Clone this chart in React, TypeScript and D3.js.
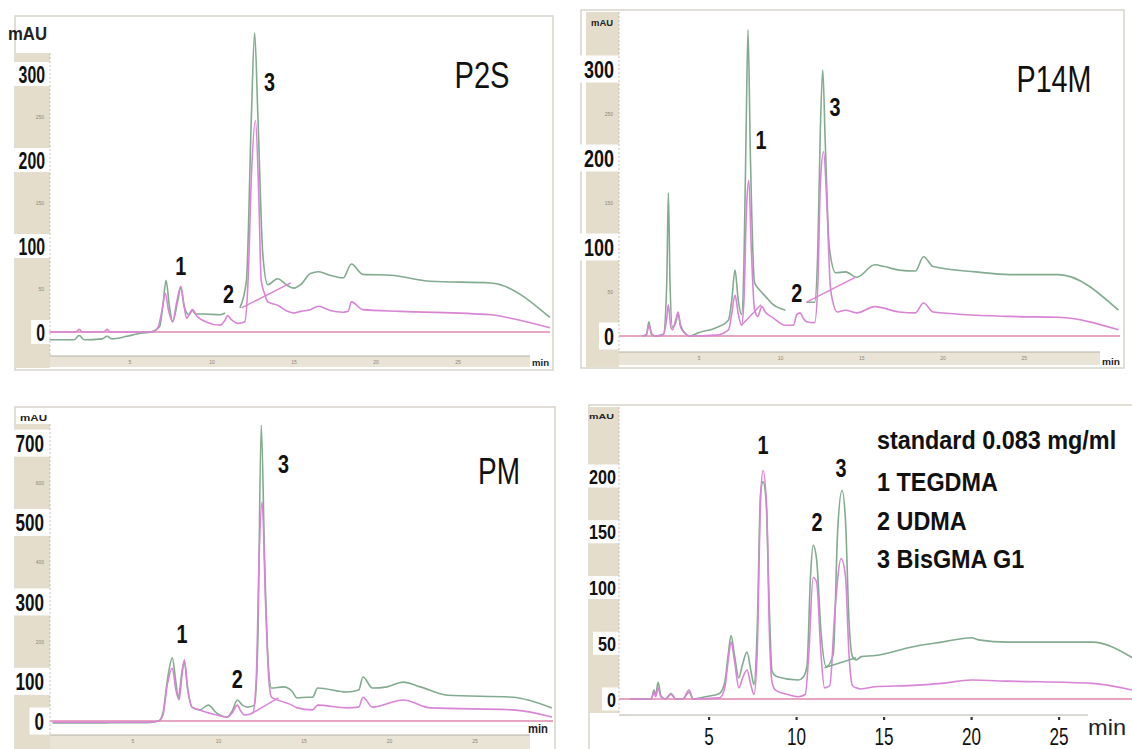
import React from "react";
import * as d3 from "d3";

type Pt = [number, number];

// ---------- DATA (time in min, absorbance in mAU) ----------
const X_TICKS = [5, 10, 15, 20, 25];

// P2S
const P2S_Y_MAJOR = [0, 100, 200, 300];
const P2S_Y_MINOR = [50, 150, 250];
const P2S_GREEN_A: Pt[] = [[0.1,-9],[1.6,-9],[1.9,-4],[2.2,-9],[3.3,-8],[3.6,-5],[3.9,-8],[4.8,-5],[5.5,-2],[6.3,0],[6.8,6],[7.0,30],[7.2,60],[7.4,30],[7.6,12],[7.9,35],[8.1,52],[8.3,30],[8.6,20],[8.8,25],[9.0,21],[9.5,21],[10.5,20],[10.8,22]];
const P2S_GREEN_B: Pt[] = [[11.7,28],[12.1,60],[12.4,250],[12.6,348],[12.8,250],[13.1,90],[13.4,55],[14.0,62],[14.6,54],[15.0,51],[15.4,55],[16.0,68],[16.5,70],[17.2,66],[18.0,63],[18.5,79],[19.2,67],[20.9,66],[23.3,59],[27.0,57],[30.6,17]];
const P2S_PINK: Pt[] = [[0.1,0],[1.7,0],[1.9,3],[2.1,0],[3.4,0],[3.6,3],[3.8,0],[6.3,0],[6.7,5],[6.95,25],[7.15,45],[7.35,25],[7.6,12],[7.85,35],[8.1,53],[8.3,30],[8.45,16],[8.8,26],[9.1,18],[9.6,12],[10.5,8],[10.8,14],[10.95,19],[11.2,14],[11.6,10],[12.0,12],[12.2,60],[12.4,180],[12.65,246],[12.85,160],[13.0,60],[13.2,45],[13.4,35],[14.0,31],[14.6,24],[15.0,22],[15.4,24],[16.0,26],[16.5,30],[17.2,25],[18.0,23],[18.3,24],[18.5,35],[19.2,26],[21.5,24],[27.0,20],[28.2,16],[30.6,5]];
const P2S_DRIFT: Pt[] = [[11.8,28],[14.8,57]];
const P2S_PEAK_LABELS: [string, number, number][] = [["1",8.1,77],["2",11.0,44],["3",13.5,291]];

// P14M
const P14M_Y_MAJOR = [0, 100, 200, 300];
const P14M_Y_MINOR = [50, 150, 250];
const P14M_GREEN_A: Pt[] = [[1.5,0],[1.75,1],[1.9,16],[2.05,2],[2.3,0],[2.8,2],[3.0,60],[3.1,161],[3.2,60],[3.35,10],[3.55,15],[3.7,25],[3.85,12],[4.2,2],[4.4,0],[5.0,4],[6.0,9],[6.8,18],[7.0,40],[7.2,74],[7.4,40],[7.6,24],[7.75,80],[7.9,250],[8.0,344],[8.15,200],[8.4,60],[8.7,52],[9.1,44],[9.5,36],[10.3,29]];
const P14M_GREEN_B: Pt[] = [[11.6,38],[12.1,38],[12.3,100],[12.45,230],[12.6,299],[12.75,220],[13.0,100],[13.4,71],[14.0,72],[14.7,66],[15.8,80],[16.4,78],[17.3,74],[18.3,73],[18.8,89],[19.4,78],[22.0,72],[24.1,69],[27.1,69],[30.8,29]];
const P14M_PINK: Pt[] = [[1.5,0],[1.75,2],[1.9,12],[2.1,2],[2.3,0],[2.8,2],[3.0,20],[3.1,35],[3.25,10],[3.35,7],[3.55,18],[3.7,27],[3.85,10],[4.1,3],[4.4,0],[6.0,1],[6.8,7],[7.0,25],[7.2,46],[7.4,25],[7.6,12],[7.75,40],[7.9,140],[8.05,175],[8.2,100],[8.4,30],[8.6,22],[8.85,33],[9.1,26],[9.5,21],[10.3,12],[10.8,12],[11.0,24],[11.2,26],[11.4,20],[11.6,16],[12.1,15],[12.3,60],[12.45,170],[12.65,207],[12.85,150],[13.05,60],[13.2,40],[13.5,27],[14.0,29],[14.7,26],[15.8,33],[17.3,27],[18.3,26],[18.8,37],[19.4,27],[24.1,22],[27.1,21],[30.8,7]];
const P14M_DRIFT: Pt[] = [[11.6,38],[14.6,66]];
const P14M_DRIFT_PINK: Pt[] = [[7.6,12],[8.8,35]];
const P14M_PEAK_LABELS: [string, number, number][] = [["1",8.8,220],["2",11.0,48],["3",13.35,257]];

// PM
const PM_Y_MAJOR = [0, 100, 300, 500, 700];
const PM_Y_MINOR = [200, 400, 600];
const PM_GREEN: Pt[] = [[0.3,-5],[3.0,-5],[4.5,-4],[5.8,-4],[6.5,0],[6.75,20],[7.0,100],[7.3,159],[7.5,100],[7.65,58],[7.85,120],[8.0,150],[8.2,80],[8.45,35],[8.9,28],[9.4,40],[9.9,20],[10.5,10],[10.8,25],[11.1,53],[11.4,40],[11.7,35],[12.1,40],[12.3,200],[12.5,745],[12.7,400],[12.9,150],[13.1,83],[13.8,86],[14.3,75],[14.6,58],[15.2,60],[15.5,60],[15.8,83],[17.5,73],[18.2,78],[18.45,111],[19.0,83],[19.85,86],[20.8,98],[21.8,86],[23.4,65],[27.2,60],[29.5,33]];
const PM_PINK: Pt[] = [[0.3,-3],[5.8,-3],[6.5,0],[6.75,15],[7.0,90],[7.3,133],[7.5,80],[7.7,53],[7.85,110],[8.0,154],[8.2,80],[8.45,35],[8.9,28],[9.9,15],[10.5,10],[10.8,20],[11.1,40],[11.3,25],[11.55,15],[12.0,20],[12.2,100],[12.4,450],[12.55,552],[12.75,300],[12.95,100],[13.1,60],[13.8,48],[14.3,40],[14.6,33],[15.5,28],[15.8,40],[17.5,33],[18.2,35],[18.45,60],[19.0,35],[20.8,53],[22.4,33],[27.2,28],[29.5,10]];
const PM_DRIFT: Pt[] = [[11.9,18],[13.5,58]];
const PM_PEAK_LABELS: [string, number, number][] = [["1",7.87,219],["2",11.1,106],["3",13.8,647]];

// Standard 0.083 mg/ml
const STD_Y_MAJOR = [0, 50, 100, 150, 200];
const STD_GREEN: Pt[] = [[0.5,0],[1.7,0],[1.86,8],[1.95,3],[2.09,15],[2.25,3],[2.5,0],[2.83,5],[3.1,0],[3.5,0],[3.86,6],[4.1,0],[4.8,2],[5.6,5],[5.9,15],[6.1,40],[6.26,57],[6.45,40],[6.7,19],[6.9,30],[7.17,42],[7.4,25],[7.57,13],[7.75,60],[7.95,185],[8.09,195],[8.26,178],[8.45,80],[8.6,25],[8.9,20],[10.1,17],[10.4,20],[10.6,30],[10.8,110],[10.95,138],[11.15,125],[11.4,60],[11.7,29],[12.1,40],[12.35,150],[12.6,187],[12.8,160],[13.0,70],[13.2,38],[13.4,35],[13.7,38],[14.5,39],[16.4,46],[17.0,48],[18.3,51],[20.0,55],[20.4,53],[22.1,51],[26.9,51],[29.2,37]];
const STD_PINK: Pt[] = [[0.5,0],[1.7,0],[1.86,6],[1.95,2],[2.09,10],[2.25,2],[2.5,0],[2.83,4],[3.1,0],[3.5,0],[3.86,8],[4.1,0],[5.6,1],[5.9,10],[6.1,35],[6.26,51],[6.45,35],[6.71,10],[6.9,18],[7.17,26],[7.4,12],[7.57,4],[7.75,40],[7.95,180],[8.09,205],[8.3,170],[8.45,60],[8.6,15],[8.8,8],[9.5,4],[10.1,2],[10.5,4],[10.7,40],[10.95,109],[11.15,105],[11.4,40],[11.6,10],[11.9,12],[12.2,80],[12.55,126],[12.8,110],[13.0,40],[13.2,12],[13.4,10],[13.7,9],[14.5,11],[16.4,12],[18.3,14],[20.0,17],[22.1,16],[26.9,14],[29.2,8]];
const STD_DRIFT: Pt[] = [[11.6,28],[13.4,37]];
const STD_PEAK_LABELS: [string, number, number][] = [["1",8.09,228],["2",11.17,159],["3",12.54,207]];
const STD_LEGEND = ["standard 0.083 mg/ml", "1 TEGDMA", "2 UDMA", "3 BisGMA G1"];

// ---------- STYLE ----------
const GREEN = "#82ab90";
const PINK = "#d985d5";
const BASE = "#e6a6c2";
const BEIGE = "#e4ddcc";
const FRAME = "#d8d4ca";
const FONT = "'Liberation Sans', Arial, sans-serif";

function Panel(props: any) {
  const c = props.cfg;
  const x = d3.scaleLinear().domain([0, 30]).range([c.x0, c.x0 + 30 * c.pxMin]);
  const y = d3.scaleLinear().domain([0, c.yMax]).range([c.y0, c.y0 - c.yMax * c.pxUnit]);
  const line = d3.line<Pt>().x((d) => x(d[0])).y((d) => y(d[1])).curve(d3.curveMonotoneX);
  const charW = c.labelCharW;
  return (
    <g>
      <rect x={c.frame[0]} y={c.frame[1]} width={c.frame[2]} height={c.frame[3]} fill="#fff" stroke={FRAME} strokeWidth={1.5} />
      <rect x={c.strip[0]} y={c.strip[1]} width={c.strip[2]} height={c.strip[3]} fill={BEIGE} />
      {c.xbar && <rect x={c.xbar[0]} y={c.xbar[1]} width={c.xbar[2]} height={c.xbar[3]} fill={BEIGE} opacity={0.8} />}
      {c.majors.map((v: number) => {
        const len = String(v).length * charW;
        return <rect key={"b" + v} x={c.labelEnd - len - 5} y={y(v) - c.boxH / 2} width={c.plotL - (c.labelEnd - len - 5)} height={c.boxH} fill="#fff" />;
      })}
      <line x1={c.plotL} x2={c.plotL} y1={c.strip[1]} y2={c.axisY} stroke="#b9b4a8" strokeWidth={0.8} strokeDasharray="2,2" />
      <line x1={c.plotL} x2={c.axisEnd} y1={c.axisY} y2={c.axisY} stroke="#b5b0a5" strokeWidth={1} />
      {c.minors.map((v: number) => (
        <text key={"m" + v} x={c.plotL - 6} y={y(v) + 2} fontSize={5} fill="#8a8578" textAnchor="end" fontFamily={FONT}>{v}</text>
      ))}
      {c.bigX
        ? X_TICKS.map((t) => (
            <g key={"xt" + t}>
              <rect x={x(t) - 1} y={c.axisY + 2} width={2.2} height={3} fill="#333" />
              <text x={x(t)} y={c.axisY + 30} fontSize={24} textAnchor="middle" fontFamily={FONT} fill="#111"
                textLength={String(t).length * 9.5} lengthAdjust="spacingAndGlyphs">{t}</text>
            </g>
          ))
        : X_TICKS.map((t) => (
            <text key={"xt" + t} x={x(t)} y={c.axisY + 8} fontSize={5} fill="#8a8578" textAnchor="middle" fontFamily={FONT}>{t}</text>
          ))}
      <line x1={c.plotL} x2={c.plotR} y1={y(0)} y2={y(0)} stroke={BASE} strokeWidth={1.8} />
      {c.green.map((s: Pt[], i: number) => (
        <path key={"g" + i} d={line(s) || ""} fill="none" stroke={GREEN} strokeWidth={1.6} strokeLinejoin="round" />
      ))}
      {c.pink.map((s: Pt[], i: number) => (
        <path key={"p" + i} d={line(s) || ""} fill="none" stroke={PINK} strokeWidth={1.6} strokeLinejoin="round" />
      ))}
      {c.drift.map((s: Pt[], i: number) => (
        <path key={"d" + i} d={d3.line<Pt>().x((d) => x(d[0])).y((d) => y(d[1]))(s) || ""} fill="none" stroke={c.driftColor[i]} strokeWidth={1.4} />
      ))}
      {c.majors.map((v: number) => (
        <text key={"l" + v} x={c.labelEnd} y={y(v) + c.labelSize * 0.36} fontSize={c.labelSize} fontWeight="bold" textAnchor="end"
          fontFamily={FONT} fill="#111" textLength={String(v).length * charW} lengthAdjust="spacingAndGlyphs">{v}</text>
      ))}
      <text x={c.mau[0]} y={c.mau[1]} fontSize={c.mau[2]} fontWeight="bold" fontFamily={FONT} fill="#222"
        textLength={c.mau[3]} lengthAdjust="spacingAndGlyphs">mAU</text>
      <text x={c.min[0]} y={c.min[1]} fontSize={c.min[2]} fontWeight={c.min[4] ? "bold" : "normal"} fontFamily={FONT} fill="#222"
        textLength={c.min[3]} lengthAdjust="spacingAndGlyphs">min</text>
      {c.peaks.map((p: [string, number, number]) => (
        <text key={"pk" + p[0]} x={x(p[1])} y={y(p[2]) + 9} fontSize={26} fontWeight="bold" textAnchor="middle" fontFamily={FONT}
          fill="#111" textLength={11} lengthAdjust="spacingAndGlyphs">{p[0]}</text>
      ))}
      {c.title && (
        <text x={c.title[1]} y={c.title[2]} fontSize={c.title[3]} textAnchor="middle" fontFamily={FONT} fill="#111"
          textLength={c.title[4]} lengthAdjust="spacingAndGlyphs">{c.title[0]}</text>
      )}
    </g>
  );
}

export default function App() {
  const p1 = {
    x0: 48, pxMin: 16.4, y0: 332, pxUnit: 0.86, yMax: 300, plotL: 50, plotR: 550, axisY: 356, axisEnd: 530,
    frame: [15, 16, 538, 354], strip: [15, 53, 35, 315], xbar: [50, 356, 480, 11],
    majors: P2S_Y_MAJOR, minors: P2S_Y_MINOR, labelEnd: 45, labelSize: 24, labelCharW: 8.8, boxH: 24,
    mau: [8, 40, 18, 39], min: [532, 366, 9, 17, true], title: ["P2S", 482, 88, 36, 55],
    green: [P2S_GREEN_A, P2S_GREEN_B], pink: [P2S_PINK], drift: [P2S_DRIFT], driftColor: [PINK], peaks: P2S_PEAK_LABELS,
  };
  const p2 = {
    x0: 618, pxMin: 16.25, y0: 336, pxUnit: 0.89, yMax: 300, plotL: 619, plotR: 1120, axisY: 352, axisEnd: 1100,
    frame: [581, 10, 543, 358], strip: [586, 12, 33, 355], xbar: [619, 352, 481, 13],
    majors: P14M_Y_MAJOR, minors: P14M_Y_MINOR, labelEnd: 614, labelSize: 24, labelCharW: 10, boxH: 27,
    mau: [591, 26, 9, 22], min: [1102, 365, 9, 18, true], title: ["P14M", 1054, 92, 36, 75],
    green: [P14M_GREEN_A, P14M_GREEN_B], pink: [P14M_PINK], drift: [P14M_DRIFT, P14M_DRIFT_PINK], driftColor: [PINK, PINK], peaks: P14M_PEAK_LABELS,
  };
  const p3 = {
    x0: 47.5, pxMin: 17.1, y0: 721, pxUnit: 0.397, yMax: 700, plotL: 50, plotR: 553, axisY: 735, axisEnd: 530,
    frame: [15, 407, 540, 360], strip: [15, 424, 35, 330], xbar: [50, 735, 480, 16],
    majors: PM_Y_MAJOR, minors: PM_Y_MINOR, labelEnd: 44, labelSize: 24, labelCharW: 9.5, boxH: 27,
    mau: [20, 421, 9, 27], min: [528, 733, 12, 20, true], title: ["PM", 499, 484, 36, 42],
    green: [PM_GREEN], pink: [PM_PINK], drift: [PM_DRIFT], driftColor: [PINK], peaks: PM_PEAK_LABELS,
  };
  const p4 = {
    x0: 621.5, pxMin: 17.5, y0: 699, pxUnit: 1.115, yMax: 200, plotL: 619, plotR: 1132, axisY: 715, axisEnd: 1088,
    frame: [589, 405, 560, 400], strip: [589, 407, 30, 306], xbar: null, bigX: true,
    majors: STD_Y_MAJOR, minors: [], labelEnd: 616, labelSize: 21, labelCharW: 9, boxH: 23,
    mau: [589, 419, 8, 25], min: [1088, 735, 22, 38, false], title: null,
    green: [STD_GREEN], pink: [STD_PINK], drift: [STD_DRIFT], driftColor: [GREEN], peaks: STD_PEAK_LABELS,
  };
  const legendY = [449, 491, 530, 568];
  return (
    <svg width={1132} height={749} style={{ position: "absolute", left: 0, top: 0, background: "#fff" }}>
      <rect width={1132} height={749} fill="#fff" />
      <Panel cfg={p1} />
      <Panel cfg={p2} />
      <Panel cfg={p3} />
      <Panel cfg={p4} />
      {STD_LEGEND.map((t, i) => (
        <text key={t} transform={`translate(877,${legendY[i]}) scale(0.9,1)`} fontSize={26} fontWeight="bold"
          fontFamily={FONT} fill="#111">{t}</text>
      ))}
    </svg>
  );
}
